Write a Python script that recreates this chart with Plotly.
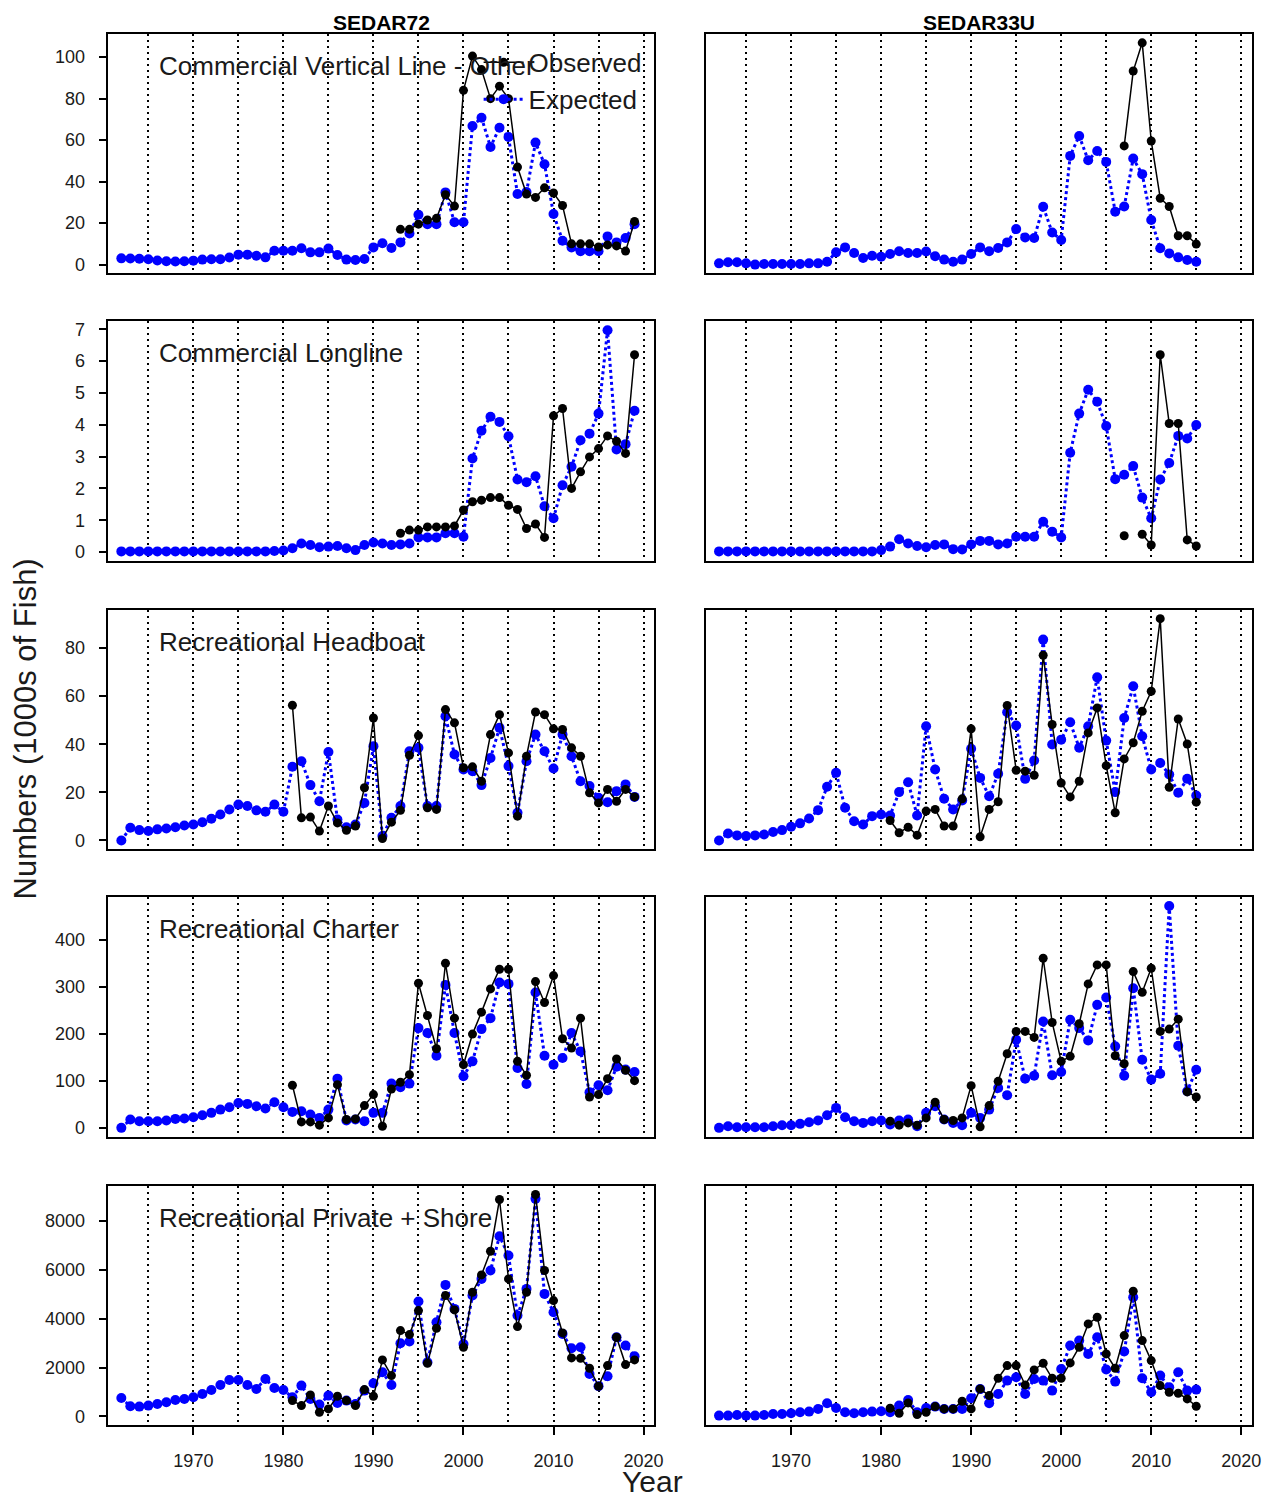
import plotly.graph_objects as go

# Page has an 8px body margin, so the figure is drawn 8px in from the page corner;
# it is sized so that it reaches the right and bottom edges of the 1270x1500 window.
PAGE_OFF = 8
W, H = 1262, 1492
FONT = "Liberation Sans, Arial, sans-serif"

# ---------------- data ----------------
years72 = list(range(1962, 2020))
years33 = list(range(1962, 2016))

col_titles = ["SEDAR72", "SEDAR33U"]
row_labels = ["Commercial Vertical Line - Other", "Commercial Longline",
              "Recreational Headboat", "Recreational Charter",
              "Recreational Private + Shore"]
legend_names = ["Observed", "Expected"]
x_tick_vals = [1970, 1980, 1990, 2000, 2010, 2020]
y_tick_steps = [20, 1, 20, 100, 2000]

# Row 1: Commercial Vertical Line - Other
cvl72_exp = [3.0, 2.9, 2.8, 2.6, 2.0, 1.6, 1.5, 1.6, 1.9, 2.4, 2.6, 2.6, 3.4,
             4.8, 4.8, 4.3, 3.5, 6.7, 6.7, 6.7, 7.9, 5.9, 5.9, 7.7, 4.6, 2.4, 2.2, 2.7,
             8.3, 10.3, 8.0, 10.7, 15.0, 24.0, 19.5, 19.5, 34.8, 20.4, 20.4, 66.8, 70.8,
             56.7, 66.0, 61.5, 34.0, 35.0, 58.8, 48.4, 24.4, 11.5, 8.3, 6.4, 6.4, 6.4,
             13.6, 10.7, 12.8, 19.5]
cvl72_obs_years = list(range(1993, 2020))
cvl72_obs = [17.0, 17.0, 19.5, 21.5, 22.3, 33.7, 28.2, 84.0, 100.5, 94.0, 80.0, 86.0,
             80.0, 47.0, 34.0, 32.4, 37.0, 34.5, 28.5, 10.0, 10.0, 10.0, 8.5, 9.5, 9.0,
             6.5, 20.8]
cvl33_exp = [0.6, 1.1, 1.1, 0.6, 0.0, 0.3, 0.3, 0.3, 0.3, 0.3, 0.6, 0.6, 1.4,
             5.9, 8.3, 5.6, 3.2, 4.3, 3.8, 5.1, 6.4, 5.6, 5.6, 6.3, 4.0, 2.4, 1.4, 2.4,
             5.1, 8.3, 6.4, 8.0, 10.7, 17.1, 13.1, 12.8, 27.9, 15.5, 11.9, 52.4, 62.0,
             50.3, 54.8, 49.5, 25.5, 28.0, 51.1, 43.6, 21.5, 7.9, 5.4, 3.5, 2.2, 1.4]
cvl33_obs_years = list(range(2007, 2016))
cvl33_obs = [57.2, 93.3, 106.9, 59.6, 32.0, 28.0, 13.9, 13.9, 9.9]

# Row 2: Commercial Longline
ll72_exp = [0.02, 0.02, 0.02, 0.02, 0.02, 0.02, 0.02, 0.02, 0.02, 0.02, 0.02, 0.02,
            0.02, 0.02, 0.02, 0.02, 0.02, 0.03, 0.05, 0.12, 0.27, 0.22, 0.15, 0.17,
            0.19, 0.12, 0.06, 0.22, 0.30, 0.27, 0.22, 0.24, 0.27, 0.46, 0.46, 0.46,
            0.59, 0.59, 0.48, 2.94, 3.81, 4.25, 4.09, 3.64, 2.28, 2.19, 2.38, 1.44,
            1.06, 2.10, 2.68, 3.51, 3.72, 4.35, 6.97, 3.22, 3.39, 4.44]
ll72_obs_years = list(range(1993, 2020))
ll72_obs = [0.59, 0.69, 0.69, 0.79, 0.79, 0.79, 0.82, 1.32, 1.58, 1.63, 1.71, 1.71,
            1.47, 1.34, 0.74, 0.88, 0.46, 4.28, 4.51, 2.00, 2.52, 2.99, 3.25, 3.65,
            3.48, 3.10, 6.20]
ll33_exp = [0.02, 0.02, 0.02, 0.02, 0.02, 0.02, 0.02, 0.02, 0.02, 0.02, 0.02, 0.02,
            0.02, 0.02, 0.02, 0.02, 0.02, 0.02, 0.06, 0.17, 0.40, 0.27, 0.19, 0.15,
            0.22, 0.24, 0.09, 0.08, 0.24, 0.35, 0.35, 0.24, 0.27, 0.48, 0.48, 0.48,
            0.95, 0.64, 0.46, 3.12, 4.35, 5.10, 4.72, 3.96, 2.29, 2.43, 2.70, 1.71,
            1.06, 2.28, 2.80, 3.65, 3.57, 3.99]
ll33_obs_years = list(range(2007, 2016))
ll33_obs = [0.51, None, 0.56, 0.22, 6.20, 4.04, 4.04, 0.38, 0.19]

# Row 3: Recreational Headboat
hb72_exp = [0.0, 5.3, 4.3, 3.9, 4.6, 5.0, 5.5, 6.2, 6.6, 7.6,
            9.0, 10.8, 12.9, 14.9, 14.3, 12.5, 11.9, 14.9, 11.9, 30.6,
            32.9, 23.0, 16.3, 36.8, 8.7, 5.5, 6.6, 15.6, 39.2, 1.8,
            9.4, 14.3, 37.1, 38.5, 14.3, 14.3, 51.6, 35.7, 29.5, 28.8,
            23.0, 34.3, 46.8, 30.9, 11.5, 32.9, 44.0, 37.1, 29.9, 44.0,
            35.0, 24.6, 22.6, 17.7, 15.9, 20.5, 23.3, 18.1]
hb72_obs_years = list(range(1981, 2020))
hb72_obs = [56.2, 9.4, 9.7, 3.9, 14.3, 7.3, 4.2, 6.0, 21.9, 50.9,
            0.8, 7.6, 12.5, 35.4, 43.6, 13.6, 12.9, 54.4, 48.9, 30.2,
            30.6, 24.6, 44.0, 52.3, 36.4, 10.1, 35.0, 53.4, 52.3, 46.4,
            46.1, 38.5, 35.0, 19.8, 15.6, 21.2, 16.3, 21.2, 18.1]
hb33_exp = [0.0, 2.9, 2.1, 1.8, 2.1, 2.5, 3.5, 4.3, 5.7, 7.1,
            9.1, 12.6, 22.3, 28.1, 13.6, 8.0, 6.6, 10.1, 10.8, 10.4,
            20.1, 24.2, 10.4, 47.5, 29.5, 17.3, 12.9, 16.6, 38.1, 26.0,
            18.4, 27.7, 53.3, 47.8, 25.6, 33.2, 83.5, 39.9, 41.9, 49.1,
            38.5, 47.5, 67.8, 41.5, 20.1, 50.9, 64.1, 43.3, 29.5, 32.2,
            27.4, 19.8, 25.6, 18.7]
hb33_obs_years = list(range(1981, 2016))
hb33_obs = [8.3, 3.2, 5.5, 2.2, 12.2, 12.9, 6.0, 6.0, 17.3, 46.4,
            1.5, 12.9, 16.1, 56.1, 29.2, 28.8, 27.1, 77.0, 48.2, 23.9,
            18.1, 24.6, 44.7, 55.1, 31.1, 11.5, 33.9, 40.6, 53.7, 62.0,
            92.2, 22.1, 50.5, 40.1, 15.9]

# Row 4: Recreational Charter
ch72_exp = [0.0, 17.7, 14.2, 14.2, 14.2, 15.6, 19.1, 19.8, 22.7, 26.9,
            31.9, 38.9, 43.9, 53.1, 51.0, 46.0, 41.1, 54.5, 43.9, 34.0,
            35.4, 28.3, 21.2, 38.9, 104.8, 15.6, 17.7, 14.2, 31.9, 31.9,
            94.2, 86.4, 94.2, 212.4, 201.8, 153.6, 304.4, 201.8, 109.7, 141.6,
            210.3, 233.6, 309.4, 306.5, 127.4, 93.5, 288.1, 153.6, 134.5, 148.7,
            201.8, 162.8, 75.8, 90.6, 80.0, 130.0, 124.0, 118.9]
ch72_obs_years = list(range(1981, 2020))
ch72_obs = [90.6, 12.7, 12.7, 5.7, 21.2, 92.0, 17.7, 19.1, 47.4, 70.8,
            3.5, 82.8, 97.0, 113.3, 308.0, 239.3, 168.5, 350.4, 233.6, 134.5,
            199.6, 246.4, 295.9, 337.7, 337.7, 141.6, 111.9, 311.5, 266.9, 324.2,
            189.7, 169.9, 233.6, 65.8, 70.8, 104.8, 146.5, 122.5, 100.5]
ch33_exp = [0.0, 3.5, 1.4, 1.4, 1.4, 1.4, 3.5, 5.7, 5.7, 8.5,
            12.0, 15.6, 26.9, 42.5, 22.7, 14.2, 10.6, 14.2, 15.6, 7.1,
            15.6, 17.7, 3.5, 31.9, 46.0, 17.7, 10.6, 5.7, 31.9, 21.2,
            38.9, 85.0, 69.4, 187.6, 104.8, 111.2, 226.5, 111.9, 118.9, 230.1,
            212.4, 186.2, 261.9, 277.5, 173.5, 111.2, 297.3, 145.1, 102.7, 115.4,
            472.2, 174.9, 77.9, 123.9]
ch33_obs_years = list(range(1981, 2016))
ch33_obs = [14.2, 5.7, 10.6, 5.7, 21.2, 54.5, 17.7, 15.6, 21.2, 89.9,
            2.1, 47.4, 99.1, 157.9, 205.3, 205.3, 192.6, 361.1, 224.4, 141.6,
            152.2, 221.6, 306.5, 346.9, 346.9, 153.6, 136.6, 332.7, 288.8, 339.8,
            205.3, 210.3, 231.5, 76.5, 65.8]

# Row 5: Recreational Private + Shore
ps72_exp = [752, 410, 397, 438, 506, 574, 670, 711, 779, 916,
            1080, 1285, 1491, 1491, 1285, 1121, 1532, 1162, 1080, 779,
            1258, 711, 479, 848, 547, 643, 506, 1053, 1354, 1805,
            1285, 2995, 3063, 4704, 2215, 3856, 5388, 4403, 2967, 4950,
            5634, 5976, 7385, 6591, 4130, 5224, 8916, 5019, 4267, 3378,
            2790, 2831, 1737, 1231, 1641, 3241, 2899, 2462]
ps72_obs_years = list(range(1981, 2020))
ps72_obs = [643, 438, 875, 164, 301, 821, 643, 438, 1094, 821,
            2311, 1668, 3515, 3350, 4335, 2174, 3610, 4950, 4362, 2831,
            5087, 5798, 6769, 8889, 5634, 3679, 5087, 9094, 5976, 4745,
            3419, 2393, 2379, 1969, 1231, 2079, 3241, 2120, 2311]
ps33_exp = [27, 27, 55, 27, 27, 55, 96, 96, 123, 164,
            191, 301, 533, 342, 164, 123, 164, 191, 205, 164,
            438, 670, 164, 342, 397, 301, 301, 301, 738, 1121,
            533, 916, 1463, 1600, 916, 1532, 1463, 1053, 1942, 2899,
            3104, 2557, 3241, 1915, 1422, 2653, 4882, 1559, 985, 1668,
            1190, 1805, 1053, 1094]
ps33_obs_years = list(range(1981, 2016))
ps33_obs = [328, 123, 547, 68, 164, 397, 301, 301, 615, 301,
            1121, 848, 1559, 2079, 2079, 1285, 1901, 2174, 1559, 1559,
            2188, 2831, 3788, 4062, 2557, 1969, 3310, 5128, 3104, 2284,
            1258, 985, 944, 711, 410]

rows = [
    [(years72, cvl72_exp, cvl72_obs_years, cvl72_obs), (years33, cvl33_exp, cvl33_obs_years, cvl33_obs)],
    [(years72, ll72_exp, ll72_obs_years, ll72_obs), (years33, ll33_exp, ll33_obs_years, ll33_obs)],
    [(years72, hb72_exp, hb72_obs_years, hb72_obs), (years33, hb33_exp, hb33_obs_years, hb33_obs)],
    [(years72, ch72_exp, ch72_obs_years, ch72_obs), (years33, ch33_exp, ch33_obs_years, ch33_obs)],
    [(years72, ps72_exp, ps72_obs_years, ps72_obs), (years33, ps33_exp, ps33_obs_years, ps33_obs)],
]

# ---------------- layout geometry (page pixels) ----------------
col_px = [(109, 659), (711, 1261)]
row_top_px = [32, 320, 609, 897, 1186]
row_h_px = 240
x_range = [1960.55, 2021.2]


def px(x):
    return (x - PAGE_OFF) / W


def py(y):
    return 1 - (y - PAGE_OFF) / H


BLUE = "#0000ff"
BLACK = "#000000"
TEXT = "#1a1a1a"

fig = go.Figure()
layout = {}
annotations = []

for r, row in enumerate(rows):
    vals = []
    for (_, e, _, o) in row:
        vals += [v for v in e if v is not None] + [v for v in o if v is not None]
    M = max(vals)
    y_range = [-0.04 * M, 1.04 * M]
    top = row_top_px[r]
    y_dom = [py(top + row_h_px), py(top)]
    for c, (yrs, exp, oyrs, obs) in enumerate(row):
        k = r * 2 + c + 1
        xname = "x" if k == 1 else f"x{k}"
        yname = "y" if k == 1 else f"y{k}"
        xkey = "xaxis" if k == 1 else f"xaxis{k}"
        ykey = "yaxis" if k == 1 else f"yaxis{k}"
        bottom = (r == len(rows) - 1)
        left = (c == 0)
        layout[xkey] = dict(
            domain=[px(col_px[c][0]), px(col_px[c][1])], anchor=yname,
            range=x_range, showline=True, mirror=True, linecolor=BLACK, linewidth=1.5,
            zeroline=False, showgrid=True, gridcolor=BLACK, griddash="2px,4px", gridwidth=2,
            tickmode="array", tickvals=x_tick_vals,
            ticks="outside" if bottom else "", ticklen=8, tickwidth=1.5, tickcolor=BLACK,
            ticklabelstandoff=11,
            showticklabels=bottom, tickfont=dict(size=18, color=TEXT, family=FONT),
            minor=dict(tick0=1965, dtick=10, showgrid=True, gridcolor=BLACK,
                       griddash="2px,4px", gridwidth=2, ticks=""),
        )
        layout[ykey] = dict(
            domain=y_dom, anchor=xname, range=y_range,
            showline=True, mirror=True, linecolor=BLACK, linewidth=1.5,
            zeroline=False, showgrid=False,
            tick0=0, dtick=y_tick_steps[r],
            ticks="outside" if left else "", ticklen=8, tickwidth=1.5, tickcolor=BLACK,
            ticklabelstandoff=10,
            showticklabels=left, tickfont=dict(size=18, color=TEXT, family=FONT),
        )
        first = (k == 1)
        fig.add_trace(go.Scatter(
            x=yrs, y=exp, mode="lines+markers", name=legend_names[1],
            line=dict(color=BLUE, width=3, dash="dot"),
            marker=dict(color=BLUE, size=10),
            xaxis=xname, yaxis=yname, showlegend=first, legendrank=2,
        ))
        fig.add_trace(go.Scatter(
            x=oyrs, y=obs, mode="lines+markers", name=legend_names[0],
            line=dict(color=BLACK, width=1.5),
            marker=dict(color=BLACK, size=9),
            connectgaps=False,
            xaxis=xname, yaxis=yname, showlegend=first, legendrank=1,
        ))
    annotations.append(dict(
        text=row_labels[r], xref="paper", yref="paper",
        x=px(158), y=py(top + 32), xanchor="left", yanchor="middle",
        showarrow=False, font=dict(size=26, color=TEXT, family=FONT),
    ))

for c, t in enumerate(col_titles):
    annotations.append(dict(
        text=f"<b>{t}</b>", xref="paper", yref="paper",
        x=px((col_px[c][0] + col_px[c][1]) / 2), y=1,
        xanchor="center", yanchor="top", showarrow=False, borderpad=0,
        font=dict(size=21, color=BLACK, family=FONT),
    ))

annotations.append(dict(
    text="Numbers (1000s of Fish)", xref="paper", yref="paper",
    x=px(26), y=py(728), xanchor="center", yanchor="middle",
    textangle=-90, showarrow=False, font=dict(size=31, color=TEXT, family=FONT),
))
annotations.append(dict(
    text="Year", xref="paper", yref="paper",
    x=px(657), y=0, xanchor="center", yanchor="bottom", borderpad=0,
    showarrow=False, font=dict(size=30, color=TEXT, family=FONT),
))

fig.update_layout(
    width=W, height=H,
    margin=dict(l=0, r=0, t=0, b=0),
    paper_bgcolor="white", plot_bgcolor="white",
    font=dict(family=FONT, color=BLACK),
    annotations=annotations,
    showlegend=True,
    legend=dict(
        x=px(482), y=py(37), xanchor="left", yanchor="top",
        bgcolor="rgba(0,0,0,0)", borderwidth=0,
        font=dict(size=26, color=TEXT, family=FONT),
        tracegroupgap=0, itemwidth=40,
    ),
    **layout,
)

fig.write_html("out.html")
